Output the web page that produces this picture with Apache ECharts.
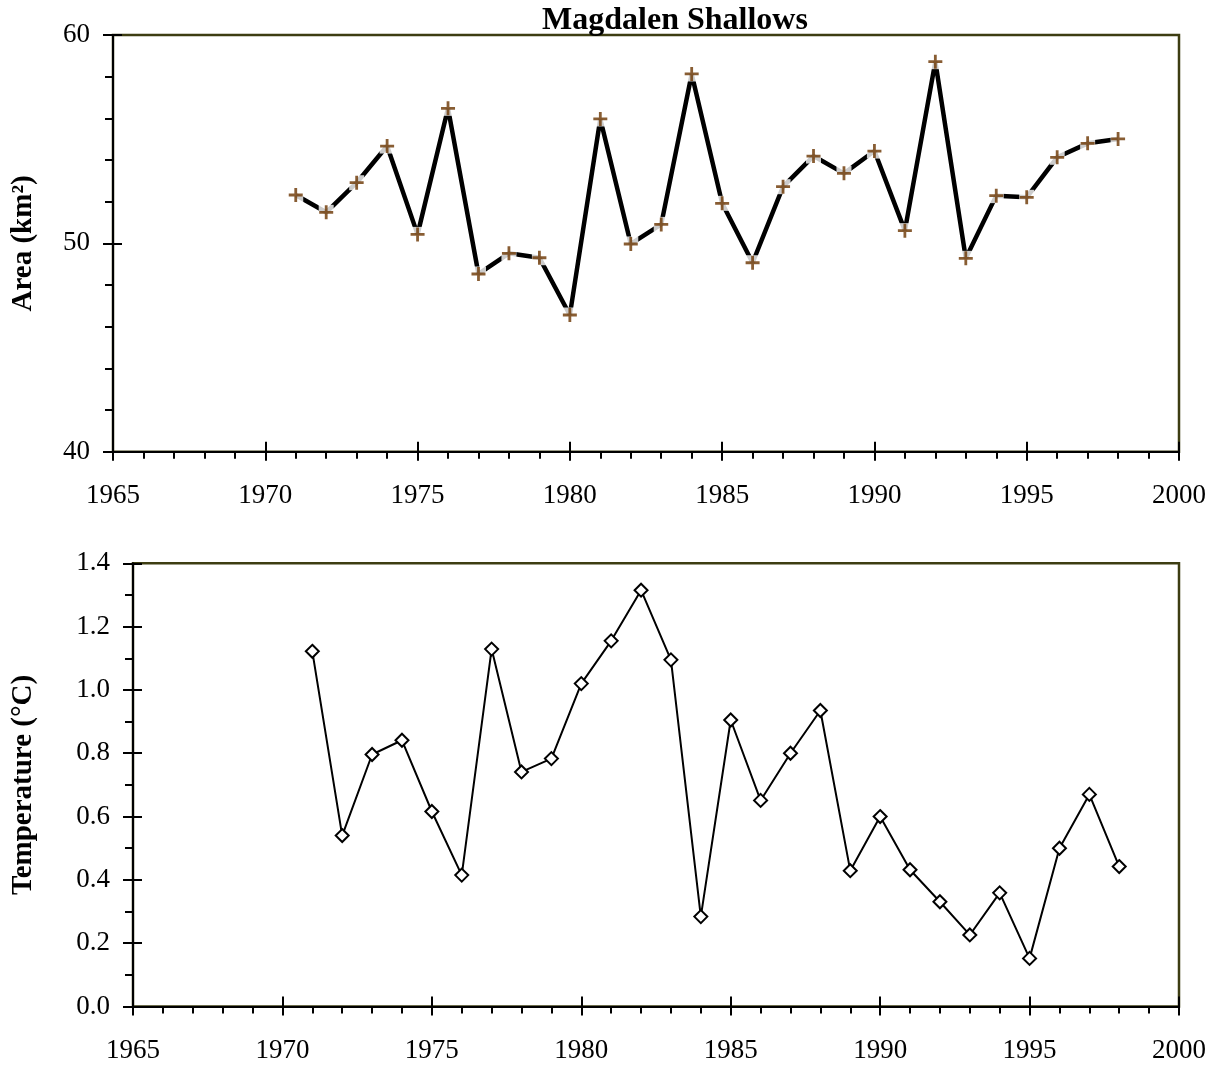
<!DOCTYPE html>
<html>
<head>
<meta charset="utf-8">
<script src="https://cdn.jsdelivr.net/npm/echarts@6/dist/echarts.min.js"></script>
<style>html,body{margin:0;padding:0;background:#fff}#c{width:1217px;height:1068px}</style>
</head>
<body>
<div id="c"></div>
<script>
const years = [1971,1972,1973,1974,1975,1976,1977,1978,1979,1980,1981,1982,1983,1984,1985,1986,1987,1988,1989,1990,1991,1992,1993,1994,1995,1996,1997,1998];
const areaValues = [52.32,51.49,52.91,54.67,50.43,56.48,48.53,49.52,49.31,46.56,55.97,49.97,50.91,58.13,51.92,49.07,52.72,54.19,53.36,54.43,50.61,58.72,49.28,52.29,52.21,54.13,54.80,55.01];
const tempValues = [1.122,0.540,0.796,0.841,0.616,0.415,1.129,0.741,0.783,1.020,1.155,1.315,1.095,0.284,0.905,0.651,0.800,0.935,0.429,0.600,0.432,0.331,0.226,0.359,0.152,0.500,0.670,0.442];
const title = 'Magdalen Shallows';
const areaName = 'Area (km²)';
const tempName = 'Temperature (°C)';

const FONT = "'Liberation Serif','Times New Roman',serif";
const areaData = years.map((y,i)=>[y, areaValues[i]]);
const tempData = years.map((y,i)=>[y, tempValues[i]]);
const plusPath = 'path://M4,0 H6 V4 H10 V6 H6 V10 H4 V6 H0 V4 H4 Z';

function xMain(gi){
  return {gridIndex:gi,type:'value',min:1965,max:2000,interval:5,
    axisLine:{show:true,onZero:false,lineStyle:{color:'#000',width:2}},
    axisTick:{show:true,inside:false,length:9,lineStyle:{color:'#000',width:2}},
    minorTick:{show:true,splitNumber:5,length:7,lineStyle:{color:'#000',width:2}},
    axisLabel:{color:'#000',fontFamily:FONT,fontSize:27,margin:31,formatter:v=>String(v)},
    splitLine:{show:false}};
}
function xOver(gi){
  return {gridIndex:gi,type:'value',min:1965,max:2000,interval:5,position:'bottom',
    axisLine:{show:false,onZero:false},
    axisTick:{show:true,inside:true,length:10,lineStyle:{color:'#000',width:2}},
    axisLabel:{show:false},splitLine:{show:false}};
}
function yMain(gi,min,max,interval,split,fmt,name,gap){
  return {gridIndex:gi,type:'value',min:min,max:max,interval:interval,position:'left',
    name:name,nameLocation:'middle',nameRotate:90,nameGap:gap,
    nameTextStyle:{color:'#000',fontFamily:FONT,fontSize:29,fontWeight:'bold'},
    axisLine:{show:true,onZero:false,lineStyle:{color:'#000',width:2}},
    axisTick:{show:true,inside:false,length:10,lineStyle:{color:'#000',width:2}},
    minorTick:{show:true,splitNumber:split,length:8,lineStyle:{color:'#000',width:2}},
    axisLabel:{color:'#000',fontFamily:FONT,fontSize:27,margin:23,formatter:fmt},
    splitLine:{show:false}};
}
function yOver(gi,min,max,interval){
  return {gridIndex:gi,type:'value',min:min,max:max,interval:interval,position:'left',
    axisLine:{show:false,onZero:false},
    axisTick:{show:true,inside:true,length:9,lineStyle:{color:'#000',width:2}},
    axisLabel:{show:false},splitLine:{show:false}};
}

const chart = echarts.init(document.getElementById('c'));
chart.setOption({
  backgroundColor:'#fff',
  animation:false,
  title:{text:title,left:670,top:0,textAlign:'center',
    textStyle:{fontFamily:FONT,fontSize:32,fontWeight:'bold',color:'#000'}},
  grid:[
    {left:113,right:38,top:35,height:416.7,show:true,borderColor:'#3d3d12',borderWidth:2.5,backgroundColor:'transparent'},
    {left:133,right:38,top:563.3,height:443.2,show:true,borderColor:'#3d3d12',borderWidth:2.5,backgroundColor:'transparent'}
  ],
  xAxis:[xMain(0),xOver(0),xMain(1),xOver(1)],
  yAxis:[
    yMain(0,40,60,10,5,v=>v.toFixed(0),areaName,75),
    yOver(0,40,60,10),
    yMain(1,0,1.4,0.2,2,v=>v.toFixed(1),tempName,95),
    yOver(1,0,1.4,0.2)
  ],
  series:[
    {type:'line',xAxisIndex:0,yAxisIndex:0,data:areaData,showSymbol:false,symbol:'none',
      lineStyle:{color:'#000',width:4.5},z:2},
    {type:'scatter',xAxisIndex:0,yAxisIndex:0,data:areaData,symbol:'rect',symbolSize:15,
      itemStyle:{color:'#fff'},z:3,silent:true},
    {type:'scatter',xAxisIndex:0,yAxisIndex:0,data:areaData,symbol:plusPath,symbolSize:14,
      itemStyle:{color:'#6a3400'},z:4},
    {type:'line',xAxisIndex:2,yAxisIndex:2,data:tempData,symbol:'diamond',symbolSize:13,showSymbol:true,
      lineStyle:{color:'#000',width:2},
      itemStyle:{color:'#fff',borderColor:'#000',borderWidth:2},z:3}
  ]
});
</script>
</body>
</html>
